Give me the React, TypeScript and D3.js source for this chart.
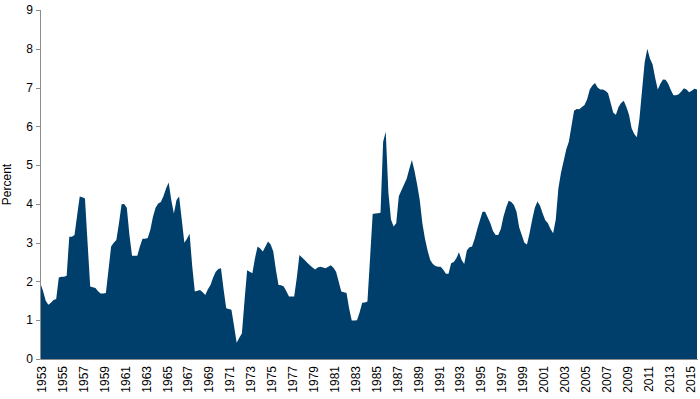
import React from "react";
import * as d3 from "d3";

// Quarterly values, 1953Q1 .. 2015Q4 (percent)
const startYear = 1953;
const values: number[] = [
  // 1953
  1.95, 1.75, 1.5, 1.4,
  // 1954
  1.45, 1.52, 1.55, 2.1,
  // 1955
  2.12, 2.12, 2.15, 3.15,
  // 1956
  3.15, 3.2, 3.7, 4.19,
  // 1957
  4.17, 4.14, 3.0, 1.87,
  // 1958
  1.85, 1.83, 1.75, 1.69,
  // 1959
  1.69, 1.7, 2.3, 2.9,
  // 1960
  3.0, 3.07, 3.5, 3.99,
  // 1961
  4.0, 3.9, 3.2, 2.66,
  // 1962
  2.66, 2.66, 2.9, 3.1,
  // 1963
  3.1, 3.12, 3.33, 3.67,
  // 1964
  3.9, 4.01, 4.05, 4.2,
  // 1965
  4.4, 4.55, 4.1, 3.75,
  // 1966
  4.1, 4.19, 3.6, 3.0,
  // 1967
  3.1, 3.23, 2.4, 1.74,
  // 1968
  1.76, 1.78, 1.72, 1.65,
  // 1969
  1.8, 1.91, 2.1, 2.25,
  // 1970
  2.32, 2.34, 1.8, 1.31,
  // 1971
  1.29, 1.27, 0.85, 0.42,
  // 1972
  0.55, 0.66, 1.5, 2.29,
  // 1973
  2.25, 2.21, 2.6, 2.9,
  // 1974
  2.85, 2.77, 2.9, 3.03,
  // 1975
  2.95, 2.77, 2.3, 1.91,
  // 1976
  1.9, 1.87, 1.75, 1.61,
  // 1977
  1.61, 1.61, 2.1, 2.68,
  // 1978
  2.62, 2.55, 2.48, 2.42,
  // 1979
  2.36, 2.31, 2.36, 2.38,
  // 1980
  2.36, 2.34, 2.38, 2.42,
  // 1981
  2.35, 2.25, 2.0, 1.74,
  // 1982
  1.72, 1.7, 1.3, 0.99,
  // 1983
  0.99, 1.0, 1.2, 1.45,
  // 1984
  1.46, 1.48, 2.6, 3.74,
  // 1985
  3.75, 3.76, 3.77, 5.6,
  // 1986
  5.86, 4.3, 3.6, 3.42,
  // 1987
  3.5, 4.2, 4.35, 4.5,
  // 1988
  4.65, 4.9, 5.13, 4.85,
  // 1989
  4.5, 4.1, 3.5, 3.1,
  // 1990
  2.8, 2.55, 2.45, 2.4,
  // 1991
  2.38, 2.38, 2.3, 2.2,
  // 1992
  2.2, 2.47, 2.5, 2.6,
  // 1993
  2.75, 2.55, 2.45, 2.8,
  // 1994
  2.88, 2.9, 3.1, 3.35,
  // 1995
  3.58, 3.8, 3.8, 3.65,
  // 1996
  3.5, 3.3, 3.2, 3.2,
  // 1997
  3.35, 3.67, 3.9, 4.08,
  // 1998
  4.05, 3.97, 3.8, 3.4,
  // 1999
  3.2, 3.0, 2.95, 3.25,
  // 2000
  3.6, 3.9, 4.06, 3.95,
  // 2001
  3.75, 3.58, 3.5, 3.35,
  // 2002
  3.24, 3.6, 4.4, 4.8,
  // 2003
  5.1, 5.4, 5.6, 6.0,
  // 2004
  6.4, 6.45, 6.44, 6.5,
  // 2005
  6.55, 6.7, 6.95, 7.05,
  // 2006
  7.12, 7.0, 6.95, 6.95,
  // 2007
  6.92, 6.85, 6.6, 6.35,
  // 2008
  6.3, 6.5, 6.6, 6.66,
  // 2009
  6.5, 6.3, 5.95, 5.8,
  // 2010
  5.72, 6.2, 6.94, 7.65,
  // 2011
  8.0, 7.75, 7.6, 7.25,
  // 2012
  6.95, 7.1, 7.21, 7.2,
  // 2013
  7.1, 6.94, 6.8, 6.8,
  // 2014
  6.83, 6.9, 6.98, 6.95,
  // 2015
  6.88, 6.92, 6.97, 6.95,
];

const yTicks: number[] = [0, 1, 2, 3, 4, 5, 6, 7, 8, 9];
const yearLabels: number[] = d3.range(1953, 2016, 2);
const yLabel = "Percent";

const W = 700;
const H = 399;
const FONT = "Liberation Sans, Arial, sans-serif";
const FILL = "#003f6b";
const AXIS = "#8c8c8c";

export default function App() {
  const data = values.map((v, i) => ({ t: startYear + i / 4, v }));
  const x = d3.scaleLinear().domain([1953, 2015.75]).range([40.5, 697]);
  const y = d3.scaleLinear().domain([0, 9]).range([359, 10]);
  const area = d3
    .area<{ t: number; v: number }>()
    .x((d) => x(d.t))
    .y0(y(0))
    .y1((d) => y(d.v));

  return (
    <svg
      width={W}
      height={H}
      style={{ position: "absolute", left: 0, top: 0, background: "#fff" }}
      fontFamily={FONT}
    >
      <path d={area(data) || ""} fill={FILL} />
      {/* y axis */}
      <line x1={40.5} x2={40.5} y1={y(9)} y2={y(0)} stroke={AXIS} strokeWidth={1} />
      {yTicks.map((t) => (
        <g key={t}>
          <line x1={36} x2={40.5} y1={Math.round(y(t)) + 0.5} y2={Math.round(y(t)) + 0.5} stroke={AXIS} />
          <text
            x={33}
            y={y(t)}
            dy="0.35em"
            textAnchor="end"
            fontSize={12}
            fill="#000"
          >
            {t}
          </text>
        </g>
      ))}
      {/* x axis */}
      <line x1={40.5} x2={698} y1={359.5} y2={359.5} stroke={AXIS} />
      {yearLabels.map((yr) => (
        <text
          key={yr}
          transform={`translate(${x(yr) + 5.5},${366}) rotate(-90)`}
          textAnchor="end"
          fontSize={12}
          fill="#000"
        >
          {yr}
        </text>
      ))}
      <text
        transform={`translate(${11},${y(4.5)}) rotate(-90)`}
        textAnchor="middle"
        fontSize={12}
        fill="#000"
      >
        {yLabel}
      </text>
    </svg>
  );
}
